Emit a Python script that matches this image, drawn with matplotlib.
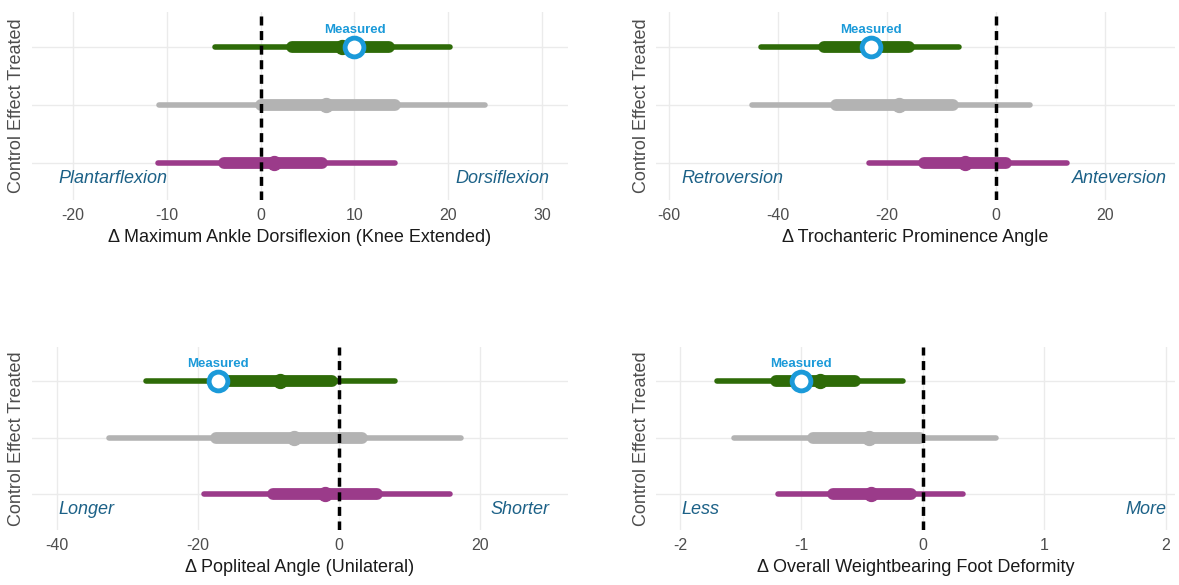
import numpy as np
import matplotlib
matplotlib.use("Agg")
from matplotlib import pyplot as plt
from matplotlib import transforms

plt.rcParams['font.family'] = ['Liberation Sans', 'DejaVu Sans']

groups = ["Control", "Effect", "Treated"]

titles = [
    "\u0394 Maximum Ankle Dorsiflexion (Knee Extended)",
    "\u0394 Trochanteric Prominence Angle",
    "\u0394 Popliteal Angle (Unilateral)",
    "\u0394 Overall Weightbearing Foot Deformity",
]
left_labels = ["Plantarflexion", "Retroversion", "Longer", "Less"]
right_labels = ["Dorsiflexion", "Anteversion", "Shorter", "More"]

# per panel, rows ordered Control, Effect, Treated
medians = [
    [1.4, 7.0, 8.7],
    [-5.6, -17.8, -23.5],
    [-1.9, -6.4, -8.3],
    [-0.43, -0.44, -0.85],
]
inner_lo = [
    [-3.9, 0.0, 3.3],
    [-13.2, -29.3, -31.6],
    [-9.3, -17.5, -16.5],
    [-0.74, -0.90, -1.21],
]
inner_hi = [
    [6.5, 14.3, 13.7],
    [1.8, -7.8, -15.9],
    [5.4, 3.3, -1.0],
    [-0.10, -0.02, -0.56],
]
outer_lo = [
    [-11.0, -10.8, -4.9],
    [-23.2, -44.7, -43.1],
    [-19.2, -32.7, -27.4],
    [-1.19, -1.55, -1.69],
]
outer_hi = [
    [14.3, 23.9, 20.2],
    [13.1, 6.3, -6.8],
    [15.8, 17.3, 8.0],
    [0.33, 0.60, -0.16],
]
measured = [10.0, -23.0, -17.1, -1.0]

xticks = [
    [-20, -10, 0, 10, 20, 30],
    [-60, -40, -20, 0, 20],
    [-40, -20, 0, 20],
    [-2, -1, 0, 1, 2],
]
xlims = [(-24.4, 32.8), (-62.5, 33.0), (-43.6, 32.6), (-2.2, 2.08)]

colors = ["#9b3b8a", "#b3b3b3", "#2e6b08"]
blue = "#1b9ad9"
label_col = "#1c6187"

fig = plt.figure(figsize=(11.79, 5.85), dpi=100)
boxes = [
    [0.027, 0.658, 0.455, 0.321],
    [0.556, 0.658, 0.441, 0.321],
    [0.027, 0.094, 0.455, 0.313],
    [0.556, 0.094, 0.441, 0.313],
]

for k in range(4):
    ax = fig.add_axes(boxes[k])
    ypos = np.arange(1, len(groups) + 1)
    for i in range(len(groups)):
        c = colors[i]
        ax.plot([outer_lo[k][i], outer_hi[k][i]], [ypos[i], ypos[i]], color=c,
                lw=4, solid_capstyle='round', zorder=3)
        ax.plot([inner_lo[k][i], inner_hi[k][i]], [ypos[i], ypos[i]], color=c,
                lw=8.5, solid_capstyle='round', zorder=4)
        ax.plot(medians[k][i], ypos[i], 'o', color=c, ms=10, zorder=5)
    ax.plot(measured[k], ypos[-1], 'o', ms=13.5, mfc='white', mec=blue, mew=3.5, zorder=6)
    ax.text(measured[k], ypos[-1] + 0.3, "Measured", color=blue, fontsize=9.5,
            fontweight='bold', ha='center', va='center', zorder=6)
    ax.axvline(0, color='black', ls=(0, (2.6, 1.6)), lw=2.5, zorder=5)

    ax.set_xlim(*xlims[k])
    ax.set_ylim(0.37, 3.6)
    ax.set_xticks(xticks[k])
    ax.set_xticklabels([str(t) for t in xticks[k]], fontsize=11.5, color='#4d4d4d')
    ax.set_yticks(ypos)
    ax.set_yticklabels([])
    ax.tick_params(length=0, pad=6)
    ax.grid(True, color='#ebebeb', lw=1)
    ax.set_axisbelow(True)
    for s in ax.spines.values():
        s.set_visible(False)
    ax.set_xlabel(titles[k], fontsize=13, color='#1a1a1a', labelpad=4)
    ax.set_ylabel("Control Effect Treated", fontsize=13, color='#4d4d4d')
    ax.yaxis.set_label_coords(-0.012 if k % 2 == 0 else -0.01, 0.5)

    # direction labels: x in axes fraction, y in data units
    tr = transforms.blended_transform_factory(ax.transAxes, ax.transData)
    right_x = 0.965 if k % 2 == 0 else 0.983
    ax.text(0.05, 0.74, left_labels[k], transform=tr,
            color=label_col, style='italic', fontsize=13, ha='left', va='center')
    ax.text(right_x, 0.74, right_labels[k], transform=tr,
            color=label_col, style='italic', fontsize=13, ha='right', va='center')

fig.savefig("out.png", dpi=100)
